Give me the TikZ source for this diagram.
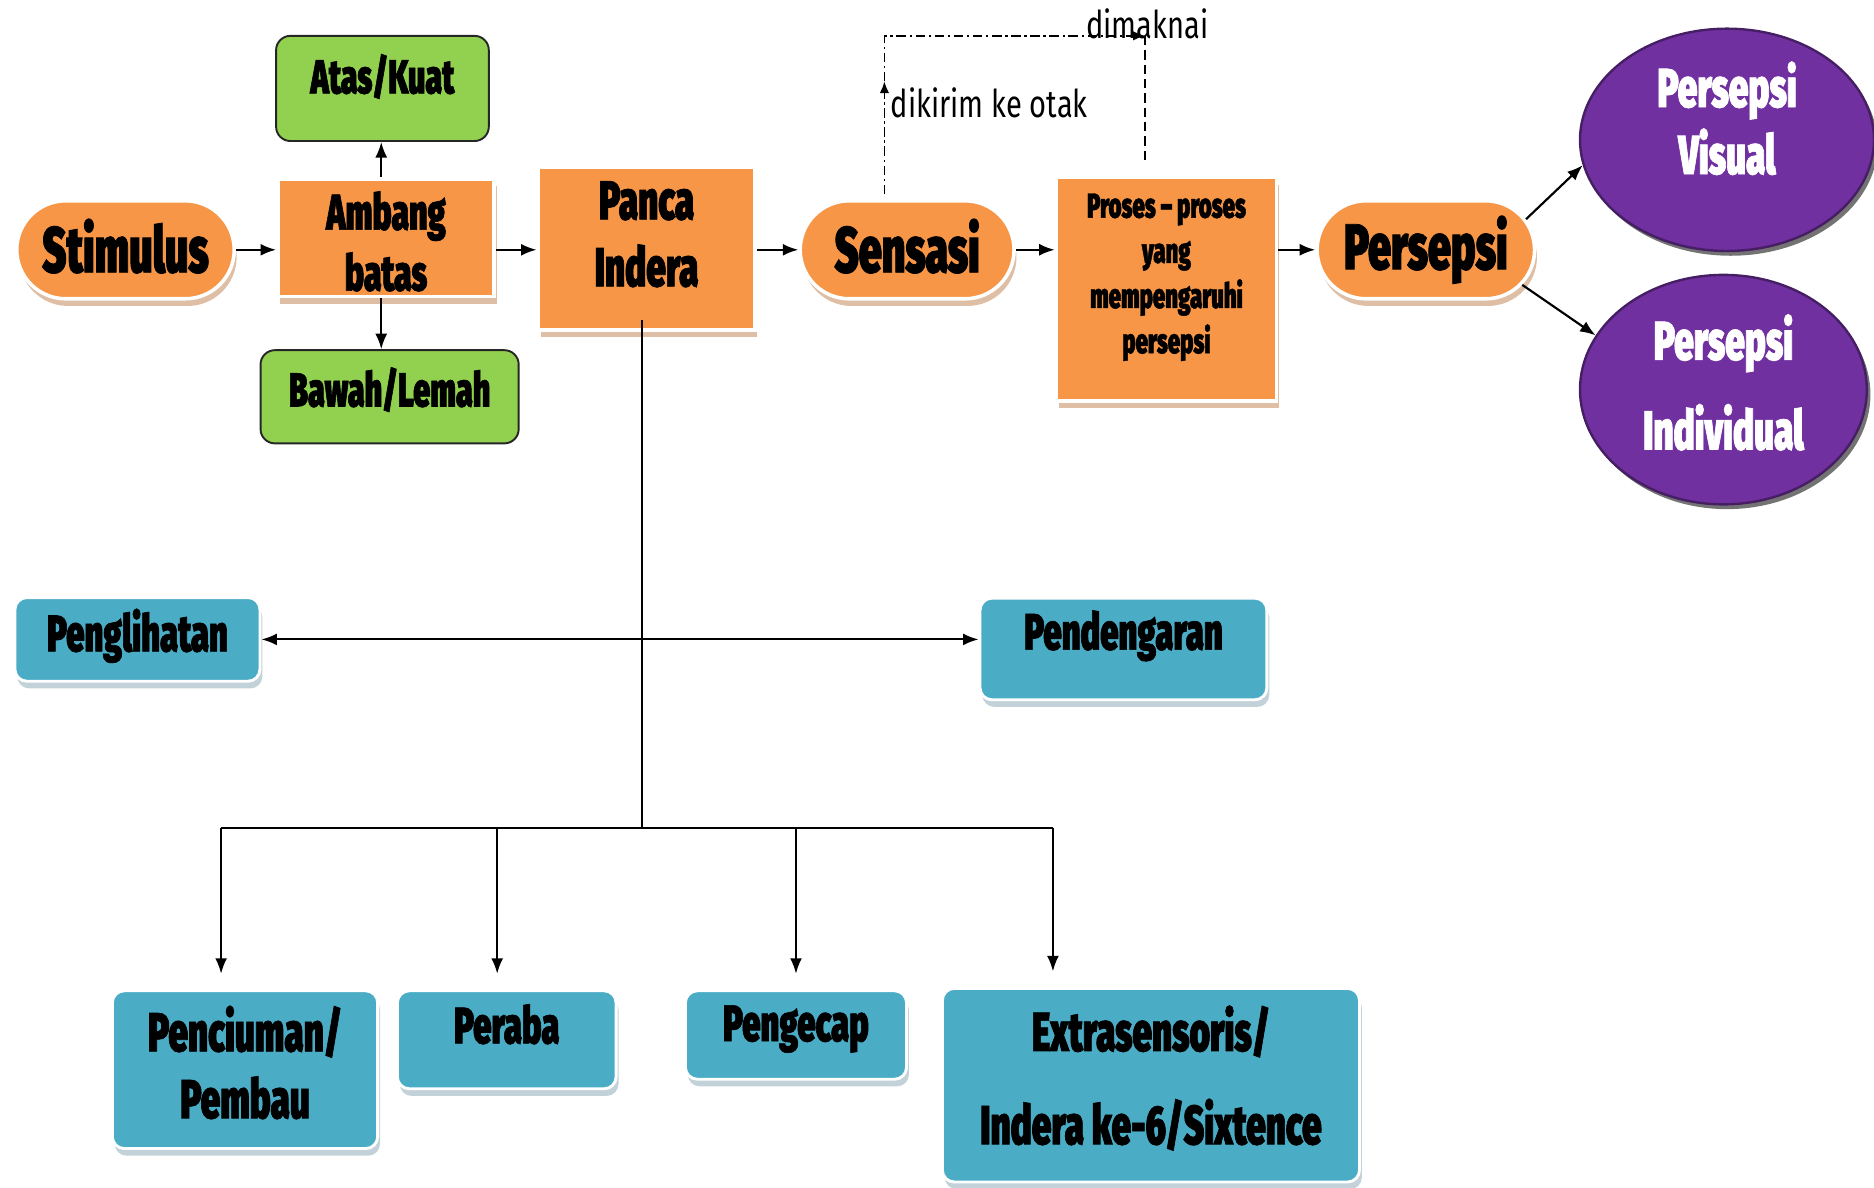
\documentclass[tikz,border=0pt]{standalone}
\usepackage{fontspec}
\usetikzlibrary{shapes.misc,shapes.geometric,shadows,arrows.meta,calc}
\newfontfamily\hv[FakeStretch=0.64,FakeBold=1.2]{Fira Sans Black}
\newfontfamily\lt[FakeStretch=0.76]{Fira Sans}
\definecolor{orng}{RGB}{247,150,70}
\definecolor{oshad}{RGB}{222,190,165}
\definecolor{grn}{RGB}{146,208,80}
\definecolor{blu}{RGB}{75,172,198}
\definecolor{bshad}{RGB}{195,210,216}
\definecolor{purp}{RGB}{112,48,160}
\definecolor{purpd}{RGB}{70,30,100}
\begin{document}
\begin{tikzpicture}[x=0.5pt,y={(0pt,-0.5pt)},
  pill/.style={rounded rectangle, fill=orng, draw=white, line width=1.5pt, inner sep=0pt,
    drop shadow={shadow xshift=1pt, shadow yshift=-3pt, fill=oshad, opacity=1}},
  obox/.style={rectangle, fill=orng, draw=white, line width=1.5pt, inner sep=0pt,
    drop shadow={shadow xshift=1pt, shadow yshift=-3pt, fill=oshad, opacity=1}},
  gbox/.style={rectangle, rounded corners=6pt, fill=grn, draw=black!85, line width=0.8pt, inner sep=0pt},
  bbox/.style={rectangle, rounded corners=5pt, fill=blu, draw=white, line width=1.2pt, inner sep=0pt,
    drop shadow={shadow xshift=1pt, shadow yshift=-3pt, fill=bshad, opacity=1}},
  pell/.style={ellipse, fill=purp, draw=purpd, line width=1pt, inner sep=0pt,
    drop shadow={shadow xshift=1.5pt, shadow yshift=-2pt, fill=black!55, opacity=1}},
  lab/.style={align=center, inner sep=0pt, text=black},
  wlab/.style={align=center, inner sep=0pt, text=white},
  arr/.style={-{Latex[length=6.5pt,width=5pt]}, line width=0.9pt},
  dbl/.style={{Latex[length=6.5pt,width=5pt]}-{Latex[length=6.5pt,width=5pt]}, line width=0.9pt},
  dd/.style={line width=0.7pt, dash pattern=on 4pt off 1.5pt on 1pt off 1.5pt},
  dsh/.style={line width=0.7pt, dash pattern=on 4pt off 2pt}
]
\useasboundingbox (0,0) rectangle (1568,994);

% top row
\node[pill, minimum width=91pt, minimum height=41pt,
  label={[lab, font=\hv\fontsize{27}{30}\selectfont, yshift=1.5pt]center:Stimulus}] (stim) at (105,209) {};
\node[obox, minimum width=90.5pt, minimum height=49pt,
  label={[lab, font=\hv\fontsize{21}{25.5}\selectfont, yshift=-1.5pt]center:Ambang\\batas}] (amb) at (323,199) {};
\node[gbox, minimum width=89pt, minimum height=44pt,
  label={[lab, font=\hv\fontsize{20}{24}\selectfont, yshift=5pt]center:Atas/Kuat}] (atas) at (320,74) {};
\node[gbox, minimum width=108pt, minimum height=39pt,
  label={[lab, font=\hv\fontsize{20}{24}\selectfont, yshift=3pt]center:Bawah/Lemah}] (bawah) at (326,332) {};
\node[obox, minimum width=90.5pt, minimum height=68pt,
  label={[lab, font=\hv\fontsize{23}{28}\selectfont, yshift=6pt]center:Panca\\Indera}] (panca) at (541,208) {};
\node[pill, minimum width=89.5pt, minimum height=41pt,
  label={[lab, font=\hv\fontsize{27}{30}\selectfont, yshift=1.5pt]center:Sensasi}] (sens) at (759,209) {};
\node[obox, minimum width=92pt, minimum height=93.5pt,
  label={[lab, font=\hv\fontsize{14.5}{18.9}\selectfont, yshift=5pt]center:Proses – proses\\yang\\mempengaruhi\\persepsi}] (proses) at (976,242) {};
\node[pill, minimum width=91pt, minimum height=41pt,
  label={[lab, font=\hv\fontsize{27}{30}\selectfont, yshift=0pt]center:Persepsi}] (pers) at (1193,209) {};
\node[pell, minimum width=123pt, minimum height=93pt,
  label={[wlab, font=\hv\fontsize{23}{28}\selectfont, yshift=9pt]center:Persepsi\\Visual}] (vis) at (1445,117) {};
\node[pell, minimum width=120pt, minimum height=96pt,
  label={[wlab, font=\hv\fontsize{23}{37.5}\selectfont, yshift=3pt]center:Persepsi\\Individual}] (indiv) at (1442,326) {};

% middle row
\node[bbox, minimum width=102.5pt, minimum height=35pt,
  label={[lab, font=\hv\fontsize{21.5}{25}\selectfont, yshift=1.5pt]center:Penglihatan}] (pengl) at (115,535) {};
\node[bbox, minimum width=120pt, minimum height=42.5pt,
  label={[lab, font=\hv\fontsize{21.5}{25}\selectfont, yshift=5.5pt]center:Pendengaran}] (pend) at (940,543) {};

% bottom row
\node[bbox, minimum width=111pt, minimum height=66pt,
  label={[lab, font=\hv\fontsize{23}{28}\selectfont, yshift=3pt]center:Penciuman/\\Pembau}] (pencium) at (205,895) {};
\node[bbox, minimum width=91.5pt, minimum height=41pt,
  label={[lab, font=\hv\fontsize{21.5}{25}\selectfont, yshift=6.5pt]center:Peraba}] (peraba) at (424,870) {};
\node[bbox, minimum width=92.5pt, minimum height=37pt,
  label={[lab, font=\hv\fontsize{21.5}{25}\selectfont, yshift=2.5pt]center:Pengecap}] (pengecap) at (666,866) {};
\node[bbox, minimum width=174.5pt, minimum height=81pt,
  label={[lab, font=\hv\fontsize{23}{39}\selectfont, yshift=3pt]center:Extrasensoris/\\Indera ke-6/Sixtence}] (extra) at (963,908) {};

% main flow
\draw[arr] (stim.east) -- (stim.east -| amb.west);
\draw[arr] (amb.east |- stim.east) -- (panca.west |- stim.east);
\draw[arr] (panca.east |- sens.west) -- (sens.west);
\draw[arr] (sens.east) -- (sens.east -| proses.west);
\draw[arr] (proses.east |- pers.west) -- (pers.west);
\draw[arr] ([xshift=-2pt]amb.north) -- ([xshift=-2pt]amb.north |- atas.south);
\draw[arr] ([xshift=-2pt]amb.south) -- ([xshift=-2pt]amb.south |- bawah.north);
\draw[arr] (pers.17) -- (vis.190);
\draw[arr] (pers.340) -- (indiv.157);

% senses tree
\coordinate (j2) at (537,693);
\draw[line width=0.9pt] ([xshift=-2pt,yshift=5pt]panca.south) -- ([xshift=-2pt]panca.south |- j2);
\draw[dbl] (pengl.east) -- (pengl.east -| pend.west);
\coordinate (t1) at ([xshift=-10pt,yshift=6.5pt]pencium.north);
\coordinate (t2) at ([xshift=-4pt,yshift=6.5pt]peraba.north);
\coordinate (t3) at ([xshift=0pt,yshift=6.5pt]pengecap.north);
\coordinate (t4) at ([xshift=-41pt,yshift=6.5pt]extra.north);
\draw[line width=0.9pt] (j2 -| t1) -- (j2 -| t4);
\foreach \t in {t1,t2,t3,t4} \draw[arr] (j2 -| \t) -- (\t);

% sent to brain loop
\coordinate (d0) at ([xshift=-9.5pt,yshift=2pt]sens.north);
\coordinate (d1) at (d0 |- 0,68);
\coordinate (d2) at (d0 |- 0,30);
\coordinate (d3) at (958,30);
\coordinate (d4) at ([xshift=-8pt,yshift=5pt]proses.north);
\draw[dd, -{Latex[length=5pt,width=4pt]}] (d0) -- (d1);
\draw[dd, -{Latex[length=5pt,width=4pt]}] (d1) -- (d2) -- (d3);
\draw[dsh] (d3) -- (d3 |- d4);
\node[font=\lt\fontsize{16}{18}\selectfont, anchor=west, inner sep=0pt] (dk) at (745,86) {dikirim ke otak};
\node[font=\lt\fontsize{16}{18}\selectfont, inner sep=0pt] (dm) at (960,20) {dimaknai};
\end{tikzpicture}
\end{document}
